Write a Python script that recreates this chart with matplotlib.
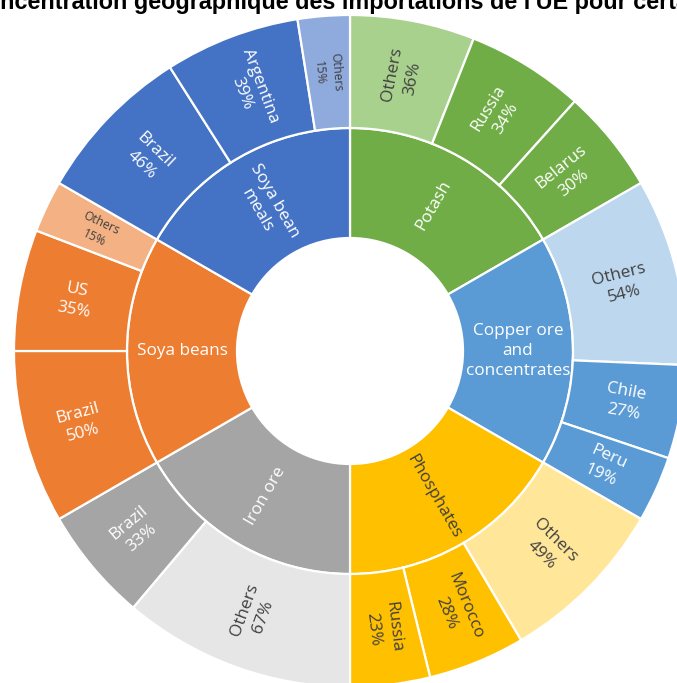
import numpy as np
import matplotlib
matplotlib.use("Agg")
import matplotlib.pyplot as plt
from matplotlib.patches import Wedge

# Product groups (inner ring), in clockwise order from 12 o'clock
products = ["Potash", "Copper ore\nand\nconcentrates", "Phosphates",
            "Iron ore", "Soya beans", "Soya bean\nmeals"]
product_share = [1, 1, 1, 1, 1, 1]

# Supplier shares (outer ring), per product, clockwise
suppliers = [
    ["Others", "Russia", "Belarus"],
    ["Others", "Chile", "Peru"],
    ["Others", "Morocco", "Russia"],
    ["Others", "Brazil"],
    ["Brazil", "US", "Others"],
    ["Brazil", "Argentina", "Others"],
]
supplier_pct = [
    [36, 34, 30],
    [54, 27, 19],
    [49, 28, 23],
    [67, 33],
    [50, 35, 15],
    [46, 39, 15],
]

base_colors = ["#70AD47", "#5B9BD5", "#FFC000", "#A5A5A5", "#ED7D31", "#4472C4"]
light_colors = ["#A9D18E", "#BDD7EE", "#FFE699", "#E6E6E6", "#F4B183", "#8FAADC"]
dark_text_products = {2}  # text on gold is dark

W, H = 677, 683
fig = plt.figure(figsize=(W / 100, H / 100), dpi=100)
ax = fig.add_axes([0, 0, 1, 1])
ax.set_xlim(0, W)
ax.set_ylim(0, H)
ax.set_aspect("equal")
ax.axis("off")

cx, cy = 350, 332
r_hole, r_mid, r_out = 113, 223, 336
FONT = "Open Sans"
WHITE = "white"
DARK = "#404040"


def text_rotation(theta_cw):
    """Radial text angle for a clockwise-from-top angle, kept readable."""
    phi = 90 - theta_cw
    phi = (phi + 180) % 360 - 180
    if phi > 90:
        phi -= 180
    elif phi <= -90:
        phi += 180
    return phi


def place(theta_cw, r, label, color, size):
    a = np.deg2rad(90 - theta_cw)
    x = cx + r * np.cos(a)
    y = cy + r * np.sin(a)
    ax.text(x, y, label, ha="center", va="center", rotation=text_rotation(theta_cw),
            rotation_mode="anchor", color=color, fontsize=size, family=FONT,
            fontstyle="normal", linespacing=1.35, multialignment="center")


total = sum(product_share)
start = 0.0
for i, (prod, share) in enumerate(zip(products, product_share)):
    span = 360.0 * share / total
    # inner ring wedge
    ax.add_patch(Wedge((cx, cy), r_mid, 90 - (start + span), 90 - start,
                       width=r_mid - r_hole, facecolor=base_colors[i],
                       edgecolor="white", linewidth=1.6))
    place(start + span / 2, (r_hole + r_mid) / 2, prod,
          DARK if i in dark_text_products else WHITE, 12.3)

    # outer ring wedges
    s = start
    for name, pct in zip(suppliers[i], supplier_pct[i]):
        sub = span * pct / 100.0
        is_other = name == "Others"
        fc = light_colors[i] if is_other else base_colors[i]
        ax.add_patch(Wedge((cx, cy), r_out, 90 - (s + sub), 90 - s,
                           width=r_out - r_mid, facecolor=fc,
                           edgecolor="white", linewidth=1.6))
        tc = DARK if (is_other or i in dark_text_products) else WHITE
        size = 8.7 if pct <= 15 else 12.3
        place(s + sub / 2, (r_mid + r_out) / 2, f"{name}\n{pct}%", tc, size)
        s += sub
    start += span

# Title, partly beyond the top edge of the canvas
fig.text(-31 / W, 674 / H,
         "Concentration géographique des importations de l'UE pour certains produits",
         ha="left", va="baseline", fontsize=16.8, fontweight="bold",
         family="Liberation Sans", color="black")

fig.savefig("out.png", dpi=100, facecolor="white")
